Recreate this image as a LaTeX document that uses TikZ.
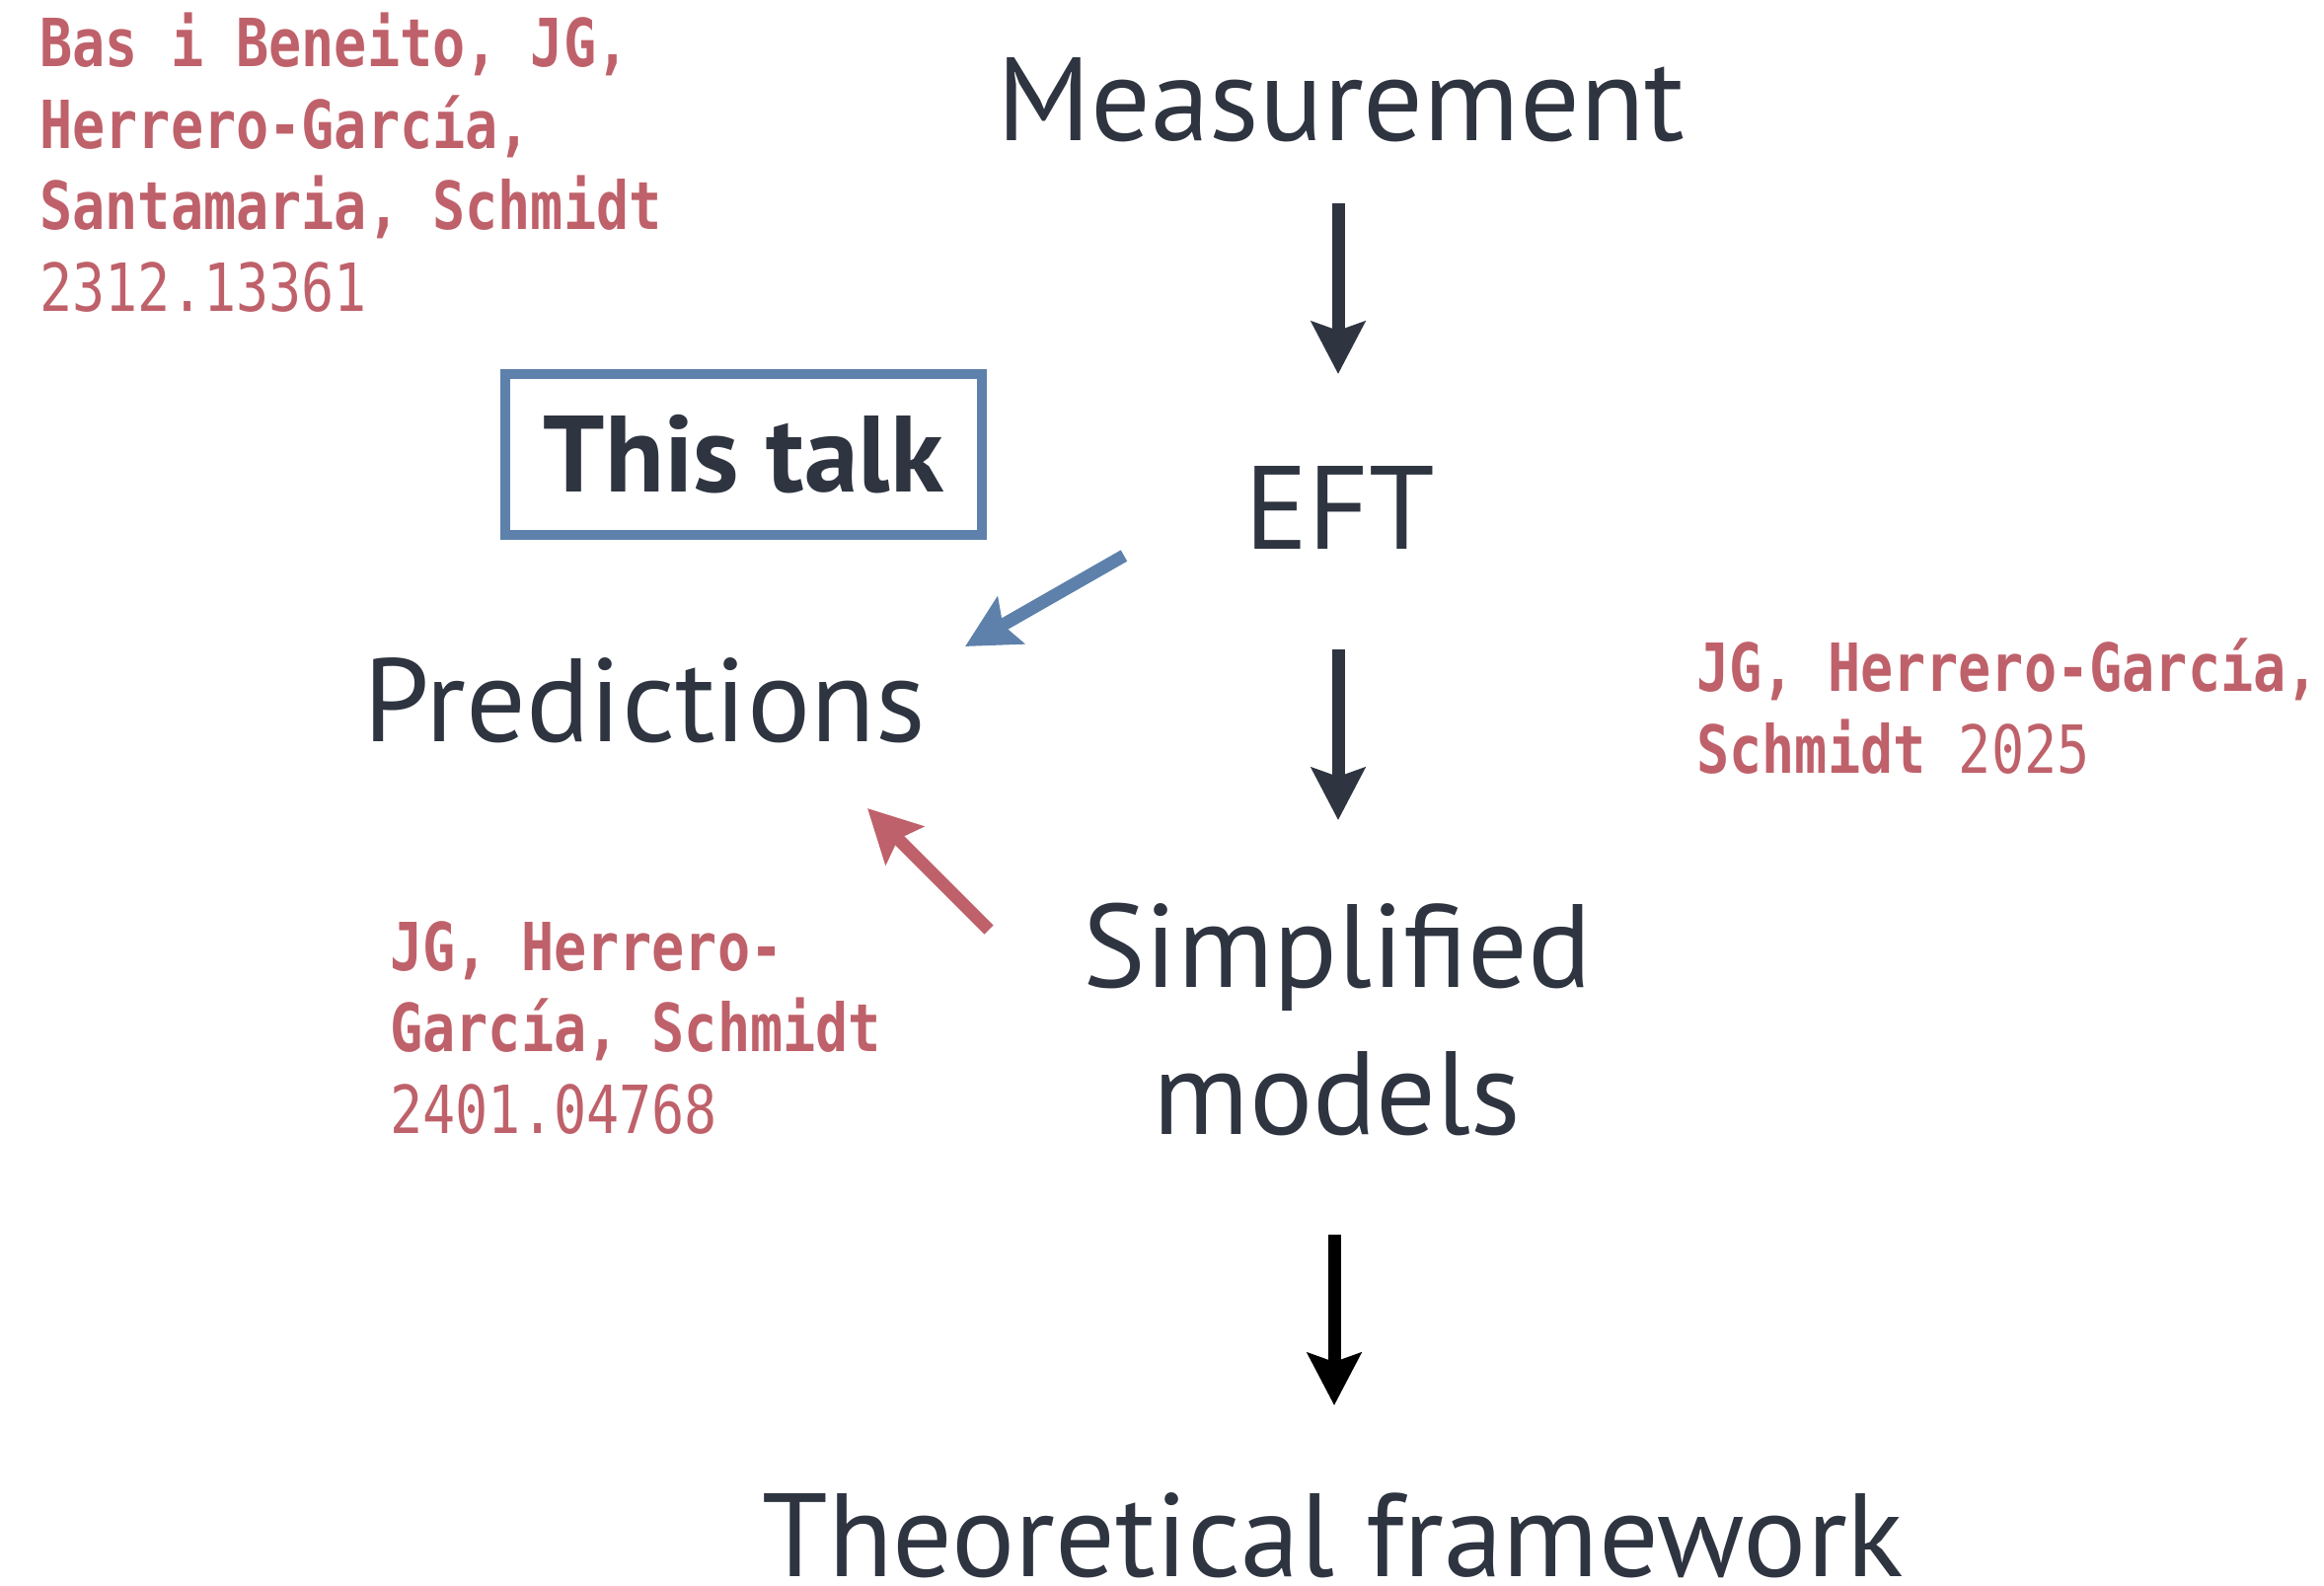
\documentclass[tikz,border=0pt]{standalone}
\usepackage{fontspec}
\setmainfont{PT Sans}
\newfontfamily\monof[FakeStretch=0.82]{DejaVu Sans Mono}
\usetikzlibrary{arrows.meta}
\definecolor{ink}{HTML}{2E3440}
\definecolor{nred}{HTML}{BF616A}
\definecolor{nblue}{HTML}{5E81AC}
\begin{document}
\begin{tikzpicture}[x=0.5pt,y=-0.5pt,
  big/.style={font=\fontsize{60}{74.5}\selectfont, text=ink, inner sep=0pt, anchor=base},
  ref/.style={font=\monof\fontsize{33.6}{41.2}\selectfont, text=nred, inner sep=0pt, anchor=base west, align=left},
  arr/.style={line width=6.5pt, -{Stealth[length=26.5pt,width=27pt,inset=4.5pt]}}]
\useasboundingbox (0,0) rectangle (2355,1606);
% main chain
\node[big] (meas) at (1359,142) {Measurement};
\node[big] (eft) at (1358,556) {EFT};
\node[big, align=center] (simp) at (1355,1149) {Simplified\\models};
\node[big] (theo) at (1351,1597) {Theoretical framework};
\node[big] (pred) at (653,751) {Predictions};
\node[draw=nblue, line width=5pt, minimum width=241.5pt, minimum height=81.5pt, inner sep=0pt,
      text=ink, font=\bfseries\fontsize{55}{66}\selectfont] (talk) at (753.5,460.5) {This talk};
% references (anchor at the baseline of the last line)
\node[ref] (r1) at (40,315) {{\bfseries Bas i Beneito, JG,}\\{\bfseries Herrero-García,}\\{\bfseries Santamaria, Schmidt}\\2312.13361};
\node[ref] (r2) at (1719,783) {{\bfseries JG, Herrero-García,}\\{\bfseries Schmidt} 2025};
\node[ref] (r3) at (395,1148) {{\bfseries JG, Herrero-}\\{\bfseries García, Schmidt}\\2401.04768};
% connector ends
\coordinate (a1s) at (1356,206); \coordinate (a1e) at (1356,379);
\coordinate (a2s) at (1356,658); \coordinate (a2e) at (1356,831);
\coordinate (a3s) at (1352,1251); \coordinate (a3e) at (1352,1424);
\coordinate (bs) at (1139,563); \coordinate (be) at (978,655);
\coordinate (rs) at (1002,942); \coordinate (re) at (879,819);
\draw[arr, ink] (a1s) -- (a1e);
\draw[arr, ink] (a2s) -- (a2e);
\draw[arr, black] (a3s) -- (a3e);
\draw[arr, nblue] (bs) -- (be);
\draw[arr, nred] (rs) -- (re);
\end{tikzpicture}
\end{document}
